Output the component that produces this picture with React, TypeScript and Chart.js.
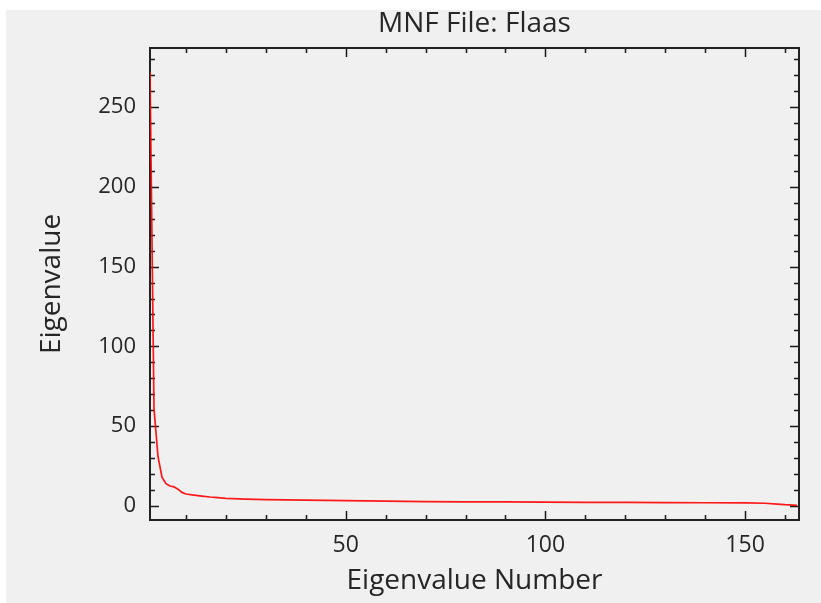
import React, { useEffect, useRef } from "react";
import { Chart, registerables } from "chart.js";

Chart.register(...registerables);

const eigenNumbers = [1, 2, 3, 4, 5, 6, 7, 8, 9, 10, 12, 14, 16, 18, 20, 25, 30, 40, 50, 60, 70, 80, 90, 100, 110, 120, 130, 140, 150, 155, 158, 160, 163];
const eigenValues = [272, 61, 31, 18, 14, 12.5, 12, 10.5, 8.5, 7.5, 6.8, 6.2, 5.6, 5.2, 4.8, 4.3, 4.0, 3.6, 3.3, 3.0, 2.7, 2.6, 2.5, 2.4, 2.3, 2.2, 2.1, 2.0, 1.9, 1.7, 1.2, 0.8, 0.4];
const xTickValues = [50, 100, 150];
const yTickValues = [0, 50, 100, 150, 200, 250];
const titleText = "MNF File: Flaas";
const xTitle = "Eigenvalue Number";
const yTitle = "Eigenvalue";

const FONT = "'Open Sans', 'Noto Sans', sans-serif";
const TEXT = "#262626";

const framePlugin = {
  id: "frameTicks",
  beforeDatasetsDraw(chart: any) {
    const { ctx, chartArea: a, scales } = chart;
    const xs = scales.x;
    const ys = scales.y;
    ctx.save();
    ctx.strokeStyle = "#1a1a1a";
    ctx.lineWidth = 1.5;
    for (let v = 10; v < xs.max; v += 10) {
      const px = Math.round(xs.getPixelForValue(v)) + 0.5;
      const len = v % 50 === 0 ? 9 : 5;
      ctx.beginPath();
      ctx.moveTo(px, a.bottom);
      ctx.lineTo(px, a.bottom - len);
      ctx.moveTo(px, a.top);
      ctx.lineTo(px, a.top + len);
      ctx.stroke();
    }
    for (let v = 0; v < ys.max; v += 10) {
      const py = Math.round(ys.getPixelForValue(v)) + 0.5;
      const len = v % 50 === 0 ? 9 : 5;
      ctx.beginPath();
      ctx.moveTo(a.left, py);
      ctx.lineTo(a.left + len, py);
      ctx.moveTo(a.right, py);
      ctx.lineTo(a.right - len, py);
      ctx.stroke();
    }
    ctx.lineWidth = 2;
    ctx.strokeStyle = "#222";
    ctx.strokeRect(a.left, a.top, a.right - a.left, a.bottom - a.top);
    ctx.restore();
  },
  afterDraw(chart: any) {
    const { ctx, chartArea: a } = chart;
    ctx.save();
    ctx.fillStyle = TEXT;
    ctx.font = `normal 500 28px ${FONT}`;
    ctx.textAlign = "center";
    ctx.textBaseline = "middle";
    ctx.fillText(titleText, (a.left + a.right) / 2, 14);
    ctx.restore();
  },
};

export default function App() {
  const ref = useRef<HTMLCanvasElement | null>(null);
  useEffect(() => {
    if (!ref.current) return;
    const chart = new Chart(ref.current, {
      type: "line",
      data: {
        datasets: [
          {
            data: eigenNumbers.map((n, i) => ({ x: n, y: eigenValues[i] })),
            borderColor: "rgba(255,0,0,0.9)",
            borderWidth: 1.7,
            pointRadius: 0,
            tension: 0,
            fill: false,
          },
        ],
      },
      options: {
        animation: false,
        responsive: false,
        maintainAspectRatio: false,
        layout: { padding: { left: 0, right: 22, top: 38, bottom: 0 } },
        plugins: {
          legend: { display: false },
          tooltip: { enabled: false },
          title: { display: false },
        },
        scales: {
          x: {
            type: "linear",
            min: 1,
            max: 163.5,
            grid: { display: false, drawTicks: false },
            border: { display: false },
            afterBuildTicks: (s: any) => {
              s.ticks = xTickValues.map((v) => ({ value: v }));
            },
            afterFit: (s: any) => {
              s.height = 83;
            },
            ticks: {
              color: TEXT,
              padding: 12,
              maxRotation: 0,
              font: { family: FONT, size: 23, weight: "500" as any },
            },
            title: {
              display: true,
              text: xTitle,
              color: TEXT,
              font: { family: FONT, size: 28, weight: "500" as any, lineHeight: 1.2 },
              padding: { top: 0, bottom: 5 },
            },
          },
          y: {
            type: "linear",
            min: -8.8,
            max: 287,
            grid: { display: false, drawTicks: false },
            border: { display: false },
            afterBuildTicks: (s: any) => {
              s.ticks = yTickValues.map((v) => ({ value: v }));
            },
            afterFit: (s: any) => {
              s.width = 144;
            },
            ticks: {
              color: TEXT,
              padding: 14,
              font: { family: FONT, size: 22, weight: "500" as any },
            },
            title: {
              display: true,
              text: yTitle,
              color: TEXT,
              font: { family: FONT, size: 28, weight: "500" as any, lineHeight: 1.2 },
              padding: { top: 29, bottom: 0 },
            },
          },
        },
      },
      plugins: [framePlugin],
    });
    return () => chart.destroy();
  }, []);

  return (
    <div
      style={{
        position: "fixed",
        left: 6,
        top: 10,
        width: 815,
        height: 593,
        background: "#f0f0f0",
      }}
    >
      <canvas ref={ref} width={815} height={593} style={{ display: "block" }} />
    </div>
  );
}
